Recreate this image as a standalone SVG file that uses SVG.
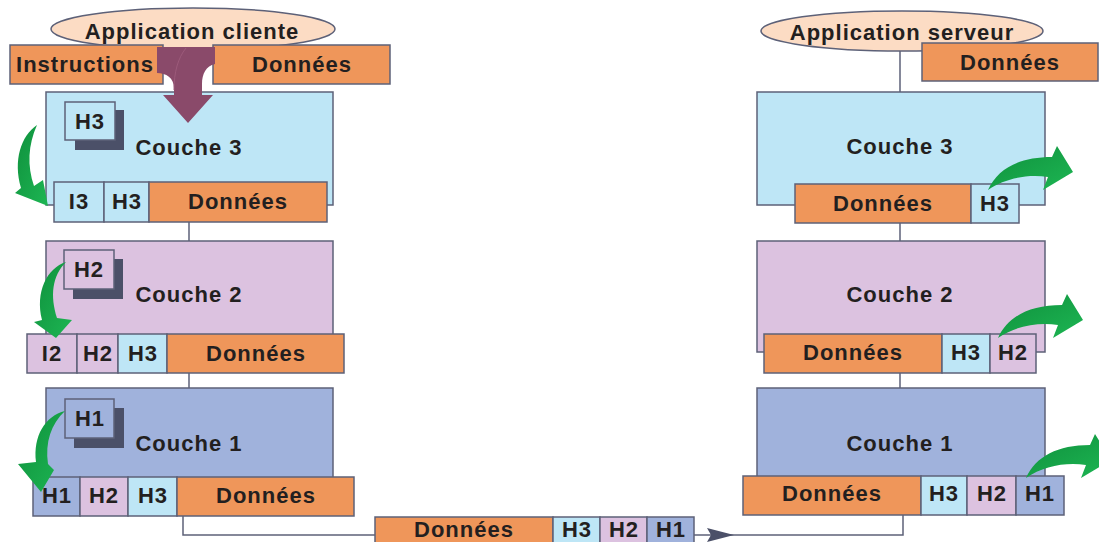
<svg xmlns="http://www.w3.org/2000/svg" width="1099" height="542" viewBox="0 0 1099 542">
  <defs>
    <style>
      .t { font-family: "Liberation Sans", Arial, sans-serif; font-weight: bold; font-size: 22px; fill: #231f20; text-anchor: middle; letter-spacing: 1px; }
      .box { stroke: #5d6178; stroke-width: 1.5; }
      .c3 { fill: #bee6f6; }
      .c2 { fill: #dcc2e0; }
      .c1 { fill: #a0b2dc; }
      .data { fill: #ef965a; }
      .app { fill: #fcdcc4; stroke: #5d6178; stroke-width: 1.5; }
      .shadow { fill: #4b5068; }
      .wire { fill: none; stroke: #5d6178; stroke-width: 1.5; }
      .green { fill: url(#greenGrad); }
    </style>
    <linearGradient id="greenGrad" x1="0" y1="0" x2="1" y2="1">
      <stop offset="0" stop-color="#0f8f3c"/>
      <stop offset="1" stop-color="#1db653"/>
    </linearGradient>
    <!-- curved green arrow, left side (header pulled down into the frame) -->
    <path id="arrowDown" d="M37,125 C21,136 13,160 21,188 L15,193 L48,206 L43,180 L34,186 C27,166 28,145 37,125 Z"/>
    <!-- curved green arrow, right side (header lifted out of the frame) -->
    <path id="arrowUp" d="M988,190 C998,168 1020,157 1052,157 L1057,146 L1073,172 L1043,190 L1048,177 C1028,174 1005,178 988,190 Z"/>
  </defs>

  <rect width="1099" height="542" fill="#ffffff"/>

  <!-- connectors -->
  <g id="connectors">
    <line class="wire" x1="189" y1="222" x2="189" y2="241"/>
    <line class="wire" x1="189" y1="373" x2="189" y2="388"/>
    <line class="wire" x1="900" y1="48" x2="900" y2="92"/>
    <line class="wire" x1="900" y1="223" x2="900" y2="241"/>
    <line class="wire" x1="900" y1="373" x2="900" y2="388"/>
    <polyline class="wire" points="183,516 183,535 903,535 903,515"/>
    <polygon points="707,528 734,535 707,542 711,535" fill="#4b5068"/>
  </g>

  <!-- client application -->
  <g id="app-client">
    <ellipse class="app" cx="193" cy="29" rx="142" ry="21"/>
    <text class="t" x="192" y="39">Application cliente</text>
    <rect class="box data" x="10" y="45" width="153" height="39"/>
    <text class="t" x="85" y="72">Instructions</text>
    <rect class="box data" x="213" y="45" width="177" height="39"/>
    <text class="t" x="302" y="72">Données</text>
  </g>

  <!-- client layer 3 -->
  <g id="client-couche3">
    <rect class="box c3" x="46" y="92" width="287" height="113"/>
    <rect class="shadow" x="75" y="110" width="49" height="40"/>
    <rect class="box c3" x="65" y="102" width="50" height="38"/>
    <text class="t" x="90" y="129">H3</text>
    <text class="t" x="189" y="155">Couche 3</text>
    <rect class="box c3" x="54" y="182" width="50" height="40"/>
    <text class="t" x="79" y="209">I3</text>
    <rect class="box c3" x="104" y="182" width="45" height="40"/>
    <text class="t" x="127" y="209">H3</text>
    <rect class="box data" x="149" y="182" width="178" height="40"/>
    <text class="t" x="238" y="209">Données</text>
    <use href="#arrowDown" class="green"/>
  </g>

  <!-- split arrow: instructions and data enter layer 3 -->
  <g id="entry-arrow">
    <path d="M157,47 L215,47 L215,64 C206,66 202,74 202,84 L202,95 L213,95 L188,123 L163,95 L174,95 L174,88 C174,78 166,73 157,73 Z" fill="#8a4a6a"/>
    <path d="M186,48 C178,58 174,72 174,90" fill="none" stroke="#9c5a7a" stroke-width="1"/>
  </g>

  <!-- client layer 2 -->
  <g id="client-couche2">
    <rect class="box c2" x="46" y="241" width="287" height="104"/>
    <rect class="shadow" x="73" y="259" width="50" height="40"/>
    <rect class="box c2" x="64" y="250" width="50" height="39"/>
    <text class="t" x="89" y="277">H2</text>
    <text class="t" x="189" y="302">Couche 2</text>
    <rect class="box c2" x="27" y="334" width="50" height="39"/>
    <text class="t" x="52" y="361">I2</text>
    <rect class="box c2" x="77" y="334" width="41" height="39"/>
    <text class="t" x="98" y="361">H2</text>
    <rect class="box c3" x="118" y="334" width="49" height="39"/>
    <text class="t" x="143" y="361">H3</text>
    <rect class="box data" x="167" y="334" width="177" height="39"/>
    <text class="t" x="256" y="361">Données</text>
    <path class="green" d="M66,262 C47,268 35,292 42,320 L34,322 L56,338 L72,320 L57,318 C50,296 52,276 66,262 Z"/>
  </g>

  <!-- client layer 1 -->
  <g id="client-couche1">
    <rect class="box c1" x="46" y="388" width="287" height="95"/>
    <rect class="shadow" x="74" y="408" width="50" height="40"/>
    <rect class="box c1" x="65" y="399" width="49" height="39"/>
    <text class="t" x="90" y="426">H1</text>
    <text class="t" x="189" y="451">Couche 1</text>
    <rect class="box c1" x="33" y="477" width="47" height="39"/>
    <text class="t" x="57" y="503">H1</text>
    <rect class="box c2" x="80" y="477" width="48" height="39"/>
    <text class="t" x="104" y="503">H2</text>
    <rect class="box c3" x="128" y="477" width="49" height="39"/>
    <text class="t" x="153" y="503">H3</text>
    <rect class="box data" x="177" y="477" width="177" height="39"/>
    <text class="t" x="266" y="503">Données</text>
    <path class="green" d="M65,411 C45,416 33,436 36,462 L18,464 L41,492 L54,470 L48,464 C45,442 51,424 65,411 Z"/>
  </g>

  <!-- frame on the wire -->
  <g id="frame">
    <rect class="box data" x="375" y="517" width="178" height="36"/>
    <text class="t" x="464" y="537">Données</text>
    <rect class="box c3" x="553" y="517" width="47" height="36"/>
    <text class="t" x="577" y="537">H3</text>
    <rect class="box c2" x="600" y="517" width="47" height="36"/>
    <text class="t" x="624" y="537">H2</text>
    <rect class="box c1" x="647" y="517" width="47" height="36"/>
    <text class="t" x="671" y="537">H1</text>
  </g>

  <!-- server application -->
  <g id="app-server">
    <ellipse class="app" cx="902" cy="31" rx="141" ry="20"/>
    <text class="t" x="902" y="40">Application serveur</text>
    <rect class="box data" x="922" y="43" width="176" height="38"/>
    <text class="t" x="1010" y="70">Données</text>
  </g>

  <!-- server layer 3 -->
  <g id="server-couche3">
    <rect class="box c3" x="757" y="92" width="288" height="113"/>
    <text class="t" x="900" y="154">Couche 3</text>
    <rect class="box data" x="795" y="184" width="176" height="39"/>
    <text class="t" x="883" y="211">Données</text>
    <rect class="box c3" x="971" y="184" width="48" height="39"/>
    <text class="t" x="995" y="211">H3</text>
    <use href="#arrowUp" class="green"/>
  </g>

  <!-- server layer 2 -->
  <g id="server-couche2">
    <rect class="box c2" x="757" y="241" width="288" height="111"/>
    <text class="t" x="900" y="302">Couche 2</text>
    <rect class="box data" x="764" y="334" width="178" height="39"/>
    <text class="t" x="853" y="360">Données</text>
    <rect class="box c3" x="942" y="334" width="48" height="39"/>
    <text class="t" x="966" y="360">H3</text>
    <rect class="box c2" x="990" y="334" width="46" height="39"/>
    <text class="t" x="1013" y="360">H2</text>
    <use href="#arrowUp" class="green" transform="translate(10,148)"/>
  </g>

  <!-- server layer 1 -->
  <g id="server-couche1">
    <rect class="box c1" x="757" y="388" width="288" height="95"/>
    <text class="t" x="900" y="451">Couche 1</text>
    <rect class="box data" x="743" y="476" width="178" height="39"/>
    <text class="t" x="832" y="501">Données</text>
    <rect class="box c3" x="921" y="476" width="46" height="39"/>
    <text class="t" x="944" y="501">H3</text>
    <rect class="box c2" x="967" y="476" width="49" height="39"/>
    <text class="t" x="992" y="501">H2</text>
    <rect class="box c1" x="1016" y="476" width="48" height="39"/>
    <text class="t" x="1040" y="501">H1</text>
    <use href="#arrowUp" class="green" transform="translate(38,288)"/>
  </g>
</svg>
